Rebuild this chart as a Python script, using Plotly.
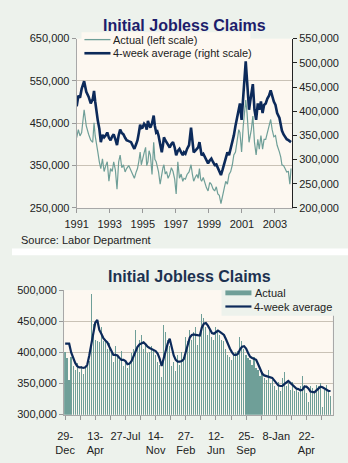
import plotly.graph_objects as go

# ---------------- top chart data (decimal years, values) ----------------
years = [1991.00, 1991.10, 1991.20, 1991.30, 1991.45, 1991.58, 1991.72, 1991.85, 1991.97, 1992.05,
         1992.12, 1992.20, 1992.28, 1992.37, 1992.46, 1992.56, 1992.66, 1992.76, 1992.85, 1992.95,
         1993.05, 1993.15, 1993.24, 1993.34, 1993.44, 1993.54, 1993.63, 1993.73, 1993.83, 1993.93,
         1994.02, 1994.15, 1994.29, 1994.40, 1994.49, 1994.60, 1994.68, 1994.76, 1994.84, 1994.91,
         1994.98, 1995.08, 1995.17, 1995.24, 1995.31, 1995.38, 1995.46, 1995.56, 1995.66, 1995.73,
         1995.81, 1995.88, 1995.95, 1996.05, 1996.15, 1996.22, 1996.28, 1996.36, 1996.44, 1996.53,
         1996.63, 1996.73, 1996.83, 1996.93, 1997.02, 1997.12, 1997.22, 1997.32, 1997.42, 1997.49,
         1997.58, 1997.68, 1997.80, 1997.92, 1998.00, 1998.08, 1998.17, 1998.27, 1998.35, 1998.43,
         1998.50, 1998.56, 1998.66, 1998.76, 1998.85, 1998.95, 1999.05, 1999.15, 1999.25, 1999.35,
         1999.45, 1999.54, 1999.63, 1999.73, 1999.83, 1999.93, 2000.02, 2000.12, 2000.22, 2000.32,
         2000.42, 2000.51, 2000.61, 2000.71, 2000.81, 2000.88, 2000.98, 2001.08, 2001.16, 2001.23,
         2001.31, 2001.37, 2001.43, 2001.50, 2001.57, 2001.66, 2001.76, 2001.86, 2001.96, 2002.05,
         2002.15, 2002.25, 2002.34, 2002.44, 2002.54, 2002.64, 2002.74, 2002.83, 2002.93, 2003.03,
         2003.13, 2003.27, 2003.35, 2003.42, 2003.52, 2003.61, 2003.71, 2003.81, 2003.90, 2003.97]

# Actual weekly claims (left scale), thousands
actual_top = [416, 435, 420, 428, 482, 444, 424, 410, 405, 451,
              420, 405, 382, 359, 343, 366, 336, 350, 359, 313,
              343, 336, 359, 340, 294, 359, 375, 345, 352, 335,
              343, 350, 336, 325, 320, 335, 343, 360, 382, 352,
              366, 380, 393, 350, 359, 385, 375, 329, 405, 365,
              359, 345, 336, 306, 336, 345, 352, 330, 336, 320,
              329, 345, 336, 318, 283, 359, 320, 330, 313, 320,
              318, 329, 335, 352, 330, 313, 322, 329, 320, 343,
              318, 313, 322, 306, 298, 290, 310, 306, 295, 290,
              300, 283, 280, 260, 283, 297, 313, 306, 329, 336,
              352, 375, 382, 405, 435, 428, 382, 444, 470, 505,
              474, 440, 405, 420, 435, 467, 405, 375, 412, 389,
              421, 389, 412, 412, 428, 440, 459, 435, 418, 421,
              398, 382, 370, 352, 350, 343, 335, 336, 306, 343]

# 4-week average (right scale), thousands
avg_top = [410, 432, 428, 446, 462, 440, 430, 416, 425, 442,
           420, 396, 380, 364, 336, 351, 346, 350, 356, 345,
           340, 348, 352, 342, 330, 350, 362, 355, 352, 345,
           340, 338, 336, 328, 322, 332, 340, 355, 372, 365,
           366, 374, 370, 362, 380, 372, 366, 375, 391, 370,
           356, 358, 350, 332, 315, 330, 346, 340, 336, 330,
           325, 332, 336, 325, 309, 318, 322, 315, 309, 315,
           312, 322, 330, 366, 335, 315, 318, 322, 325, 336,
           318, 309, 312, 305, 300, 292, 298, 302, 295, 289,
           290, 282, 278, 268, 279, 292, 302, 315, 309, 322,
           335, 350, 370, 390, 410, 416, 382, 436, 470, 503,
           463, 430, 403, 420, 436, 456, 403, 382, 416, 403,
           420, 396, 413, 416, 426, 432, 443, 430, 420, 413,
           396, 386, 372, 360, 352, 346, 342, 340, 338, 336]

top_year_ticks = [1991, 1993, 1995, 1997, 1999, 2001, 2003]

# ---------------- bottom chart data (weekly) ----------------
week_labels = ["29-<br>Dec", "13-<br>Apr", "27-Jul", "14-<br>Nov", "27-<br>Feb",
               "12-<br>Jun", "25-<br>Sep", "8-Jan", "22-<br>Apr"]

actual_bottom = [400, 390, 355, 392, 378, 372, 382, 368, 378, 365,
                 378, 380, 386, 494, 445, 420, 418, 416, 440, 418,
                 420, 405, 415, 398, 384, 410, 392, 388, 402, 378,
                 385, 375, 382, 398, 405, 436, 410, 420, 428, 406,
                 412, 398, 400, 410, 402, 395, 385, 380, 360, 444,
                 432, 420, 410, 378, 385, 370, 395, 380, 400, 392,
                 425, 418, 436, 420, 432, 440, 412, 428, 462, 455,
                 440, 428, 435, 425, 420, 440, 436, 428, 420, 418,
                 406, 395, 392, 388, 394, 400, 402, 425, 418, 406,
                 396, 390, 388, 380, 392, 375, 372, 362, 368, 358,
                 355, 372, 350, 356, 345, 340, 352, 338, 358, 368,
                 345, 350, 340, 352, 338, 342, 336, 345, 362, 348,
                 334, 320, 345, 342, 335, 348, 346, 350, 312, 340,
                 348, 336, 330]

avg_bottom = [414, 414, 414, 400, 390, 383, 378, 376, 376, 375,
              376, 380, 395, 412, 432, 448, 452, 436, 430, 423,
              419, 416, 409, 403, 396, 396, 395, 391, 388, 388,
              386, 381, 382, 386, 393, 401, 409, 413, 415, 416,
              413, 409, 407, 405, 403, 402, 398, 390, 378, 390,
              405, 414, 422, 410, 395, 388, 385, 385, 386, 389,
              400, 412, 424, 428, 429, 428, 427, 427, 440, 446,
              447, 443, 437, 431, 430, 432, 435, 433, 431, 428,
              421, 412, 406, 400, 396, 396, 398, 405, 409, 410,
              406, 399, 393, 391, 389, 388, 381, 373, 366, 363,
              362, 362, 361, 359, 355, 350, 347, 346, 346, 349,
              352, 354, 351, 348, 344, 342, 341, 339, 340, 345,
              345, 342, 337, 336, 336, 339, 342, 345, 344, 342,
              339, 338, 338]

weeks = list(range(len(avg_bottom)))

# ---------------- styling ----------------
W, H = 348, 463
PANEL = "#edf2ec"
PLOT_BG = "#fdf8f1"
GRID = "#c9c2b6"
GREEN = "#6f9f98"
NAVY = "#0c2a5a"
FONT = "Liberation Sans, Arial, sans-serif"
TXT = "#222222"


def px(x):
    return x / W


def py(y):
    return 1 - y / H


fig = go.Figure()

fig.add_trace(go.Scatter(x=years, y=[v * 1000 for v in actual_top], mode="lines",
                         line=dict(color=GREEN, width=1.2), xaxis="x", yaxis="y",
                         name="Actual (left scale)", showlegend=False))
fig.add_trace(go.Scatter(x=years, y=[v * 1000 for v in avg_top], mode="lines",
                         line=dict(color=NAVY, width=2.6), xaxis="x", yaxis="y3",
                         name="4-week average (right scale)", showlegend=False))

# very narrow bars: plotly expands tiny bars to whole pixels -> crisp 1px bars
fig.add_trace(go.Bar(x=weeks, y=[v * 1000 for v in actual_bottom], xaxis="x2", yaxis="y2",
                     marker=dict(color=GREEN, line=dict(width=0)), width=0.05,
                     name="Actual", showlegend=False))
fig.add_trace(go.Scatter(x=weeks, y=[v * 1000 for v in avg_bottom], mode="lines",
                         line=dict(color=NAVY, width=2.2), xaxis="x2", yaxis="y2",
                         name="4-week average", showlegend=False))

tickfont = dict(family=FONT, size=11, color=TXT)

fig.update_layout(
    width=W, height=H,
    margin=dict(l=0, r=0, t=0, b=0),
    paper_bgcolor=PANEL,
    plot_bgcolor=PLOT_BG,
    bargap=0,
    xaxis=dict(domain=[px(67), px(290)], anchor="y", range=[1991, 2004.03],
               tickvals=top_year_ticks, ticks="outside", ticklen=4, tickcolor="#999",
               showline=True, linecolor="#a8a8a8", showgrid=False, zeroline=False,
               tickfont=tickfont, ticklabelstandoff=2),
    yaxis=dict(domain=[py(207.3), py(33.5)], anchor="x", range=[250000, 650000],
               dtick=100000, tick0=250000, tickformat=",", ticks="outside", ticklen=4,
               tickcolor="#999", showline=True, linecolor="#a8a8a8", showgrid=True,
               gridcolor=GRID, zeroline=False, tickfont=tickfont),
    yaxis3=dict(overlaying="y", side="right", anchor="x", range=[200000, 550000],
                dtick=50000, tick0=200000, tickformat=",", ticks="outside", ticklen=4,
                tickcolor="#222", showline=True, linecolor="#222", showgrid=False,
                zeroline=False, tickfont=tickfont),
    xaxis2=dict(domain=[px(54), px(332)], anchor="y2", range=[-0.5, 133],
                tickvals=[15 * i for i in range(len(week_labels))], ticktext=week_labels,
                ticks="outside", ticklen=4, tickcolor="#999",
                minor=dict(ticks="outside", dtick=7.5, tick0=0, ticklen=4, tickcolor="#999"),
                showline=True, linecolor="#a8a8a8", showgrid=False, zeroline=False,
                tickfont=tickfont, ticklabelstandoff=7),
    yaxis2=dict(domain=[py(419.5), py(291.7)], anchor="x2", range=[300000, 500000],
                dtick=50000, tick0=300000, tickformat=",", ticks="outside", ticklen=4,
                tickcolor="#999", showline=True, mirror=True, linecolor="#a8a8a8",
                showgrid=True, gridcolor=GRID, zeroline=False, tickfont=tickfont),
)

shapes = [
    # separator band between the two panels
    dict(type="rect", xref="paper", yref="paper", x0=0, x1=1, y0=py(256), y1=py(249),
         fillcolor="#ffffff", line=dict(width=0), layer="below"),
    # top legend background
    dict(type="rect", xref="paper", yref="paper", x0=px(72), x1=px(247), y0=py(55), y1=py(27),
         fillcolor=PLOT_BG, line=dict(width=0), layer="above"),
    dict(type="line", xref="paper", yref="paper", x0=px(75), x1=px(102), y0=py(34.5), y1=py(34.5),
         line=dict(color=GREEN, width=1.3), layer="above"),
    dict(type="line", xref="paper", yref="paper", x0=px(75), x1=px(102), y0=py(48.5), y1=py(48.5),
         line=dict(color=NAVY, width=2.6), layer="above"),
    # bottom legend background
    dict(type="rect", xref="paper", yref="paper", x0=px(217), x1=px(336), y0=py(318), y1=py(287),
         fillcolor=PANEL, line=dict(width=0), layer="above"),
    dict(type="rect", xref="paper", yref="paper", x0=px(221), x1=px(248), y0=py(297), y1=py(292),
         fillcolor=GREEN, line=dict(width=0), layer="above"),
    dict(type="line", xref="paper", yref="paper", x0=px(221), x1=px(248), y0=py(308.5), y1=py(308.5),
         line=dict(color=NAVY, width=2.2), layer="above"),
]

legfont = dict(family=FONT, size=11, color=TXT)
annotations = [
    dict(text="<b>Initial Jobless Claims</b>", x=px(178.5), y=py(20), xref="paper", yref="paper",
         showarrow=False, xanchor="center", yanchor="middle",
         font=dict(family=FONT, size=16, color="#1d1d6b")),
    dict(text="Actual (left scale)", x=px(103), y=py(34.5), xref="paper", yref="paper",
         showarrow=False, xanchor="left", yanchor="middle", font=legfont),
    dict(text="4-week average (right scale)", x=px(103), y=py(48.5), xref="paper", yref="paper",
         showarrow=False, xanchor="left", yanchor="middle", font=legfont),
    dict(text="Source: Labor Department", x=px(7), y=py(240), xref="paper", yref="paper",
         showarrow=False, xanchor="left", yanchor="middle", font=legfont),
    dict(text="<b>Initial Jobless Claims</b>", x=px(183.5), y=py(278), xref="paper", yref="paper",
         showarrow=False, xanchor="center", yanchor="middle",
         font=dict(family=FONT, size=16, color="#1c3150")),
    dict(text="Actual", x=px(250), y=py(294.5), xref="paper", yref="paper",
         showarrow=False, xanchor="left", yanchor="middle", font=legfont),
    dict(text="4-week average", x=px(249), y=py(308.5), xref="paper", yref="paper",
         showarrow=False, xanchor="left", yanchor="middle", font=legfont),
]

fig.update_layout(shapes=shapes, annotations=annotations)

fig.write_html("out.html")
